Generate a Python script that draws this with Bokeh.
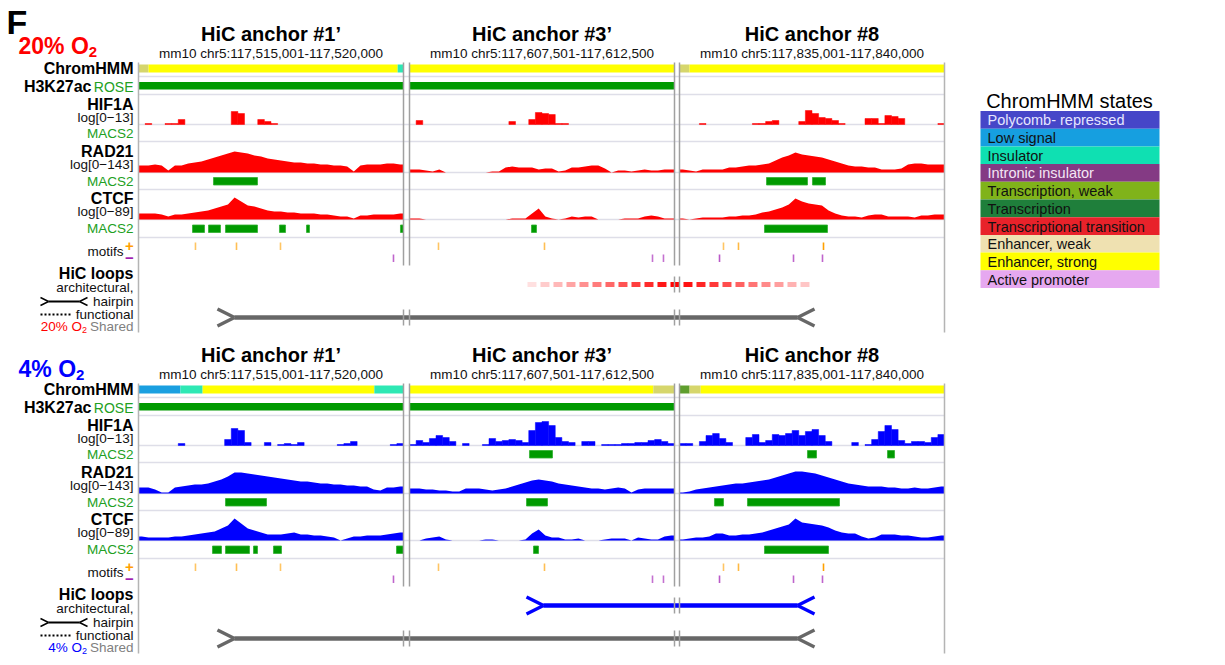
import numpy as np
from bokeh.plotting import figure
from bokeh.models import Range1d
from bokeh.core.properties import value
from bokeh.embed import file_html
from bokeh.resources import INLINE

FONT = "Liberation Sans"

# ------------------------------------------------------------------ data
ANCHOR_TITLES = ["HiC anchor #1\u2019", "HiC anchor #3\u2019", "HiC anchor #8"]
ANCHOR_COORDS = ["mm10 chr5:117,515,001-117,520,000",
                 "mm10 chr5:117,607,501-117,612,500",
                 "mm10 chr5:117,835,001-117,840,000"]
WINDOW_BP = 5000
CONDITIONS = ["20% O", "4% O"]            # subscript "2" added when drawn
COND_COLORS = ["#ff0000", "#0000ff"]
SIG_FULL = 30                               # full-scale of the log signal tracks

LEGEND_STATES = ["Polycomb- repressed", "Low signal", "Insulator", "Intronic insulator",
                 "Transcription, weak", "Transcription", "Transcriptional transition",
                 "Enhancer, weak", "Enhancer, strong", "Active promoter"]
LEGEND_COLORS = ["#4646c8", "#169fe0", "#0fe0b2", "#843a84", "#80b31a", "#1f7f3b",
                 "#e8222a", "#efe1b1", "#ffff00", "#e6a8f0"]
LEGEND_TEXT = ["#e6e6ff", "#111111", "#111111", "#f4e6f4", "#111111", "#111111",
               "#111111", "#111111", "#111111", "#111111"]
TRACK_STATE_COLOR = {"Enhancer, strong": "#ffff00", "Enhancer, weak": "#d6d66c",
                     "Insulator": "#2ee8b4", "Low signal": "#1a9fe0",
                     "Transcription, weak": "#5f9e2e"}

# ChromHMM segments per condition, per anchor: (start_bp, end_bp, state)
CHROMHMM_20 = [[(0, 190, "Enhancer, weak"), (190, 4890, "Enhancer, strong"), (4890, 5000, "Insulator")],
               [(0, 5000, "Enhancer, strong")],
               [(0, 190, "Enhancer, weak"), (190, 5000, "Enhancer, strong")]]
CHROMHMM_4 = [[(0, 790, "Low signal"), (790, 1210, "Insulator"), (1210, 4450, "Enhancer, strong"), (4450, 5000, "Insulator")],
              [(0, 4600, "Enhancer, strong"), (4600, 5000, "Enhancer, weak")],
              [(0, 190, "Transcription, weak"), (190, 400, "Enhancer, weak"), (400, 5000, "Enhancer, strong")]]

# H3K27ac ROSE super-enhancer intervals
ROSE_20 = [[(0, 5000)], [(0, 5000)], []]
ROSE_4 = [[(0, 5000)], [(0, 5000)], []]

# signal tracks: 40 bins per 5 kb anchor window (log scale, 0..30)
HIF1A_20 = [[0,1,0,0,1,1,5,0,0,0, 0,0,0,0,13,11,0,0,5,3, 1,0,0,0,0,0,0,0,0,0, 0,0,0,0,0,0,0,0,0,0],
            [0,4,0,0,0,0,0,0,0,0, 0,0,0,0,0,3,0,0,5,12, 11,10,1,1,0,0,0,0,0,0, 0,0,0,0,0,0,0,0,0,0],
            [0,0,0,1,0,0,0,0,0,0, 0,1,1,3,4,0,0,0,3,14, 11,7,6,4,1,0,0,0,6,6, 1,9,8,6,0,0,0,0,0,1]]
RAD21_20 = [[7,7,8,7,2,7,7,9,10,11, 13,15,17,19,21,20,19,17,16,14, 13,12,11,10,10,9,9,8,8,7, 7,6,1,7,8,8,8,9,9,8],
            [3,3,2,1,3,0,0,0,0,0, 0,0,1,1,5,6,5,5,5,3, 4,4,1,2,5,5,6,7,7,4, 0,2,2,1,2,3,2,2,3,3],
            [3,2,1,3,3,3,3,5,5,6, 7,7,8,9,12,15,17,20,18,17, 16,15,13,11,9,7,6,6,5,5, 3,3,3,4,8,9,9,8,8,8]]
CTCF_20 = [[6,6,6,5,3,5,5,6,7,8, 9,11,13,15,22,18,14,13,11,9, 8,8,7,7,6,6,6,5,5,4, 3,3,1,4,4,5,5,5,5,6],
           [1,1,0,0,0,0,0,0,0,0, 0,0,0,0,0,1,1,1,6,11, 3,1,0,1,3,2,3,3,0,0, 0,0,1,1,1,3,4,3,1,1],
           [1,0,1,2,2,2,2,3,3,4, 4,5,7,8,10,12,15,21,18,16, 15,14,9,6,4,3,3,2,4,5, 5,3,3,3,3,2,4,4,5,5]]
HIF1A_4 = [[0,0,0,0,0,0,2,0,0,0, 0,0,0,6,17,15,3,0,0,3, 0,1,2,1,3,0,0,0,0,0, 1,2,4,0,0,0,0,0,1,2],
           [1,5,3,7,10,8,4,0,2,0, 0,1,7,4,5,6,5,3,15,23, 24,20,8,4,3,0,4,4,0,1, 1,1,2,2,3,3,5,6,4,2],
           [2,2,0,4,10,12,7,3,0,0, 8,11,3,5,11,10,12,15,10,14, 16,10,4,0,0,0,3,0,1,6, 14,20,16,5,2,4,4,3,8,11]]
RAD21_4 = [[6,6,4,1,1,6,7,8,9,9, 10,12,14,17,21,21,20,19,18,17, 16,15,14,13,12,12,11,10,10,9, 9,8,8,7,7,4,3,6,6,7],
           [5,5,4,4,3,3,2,2,5,5, 5,4,3,4,5,7,9,11,13,14, 13,12,10,9,8,7,6,5,5,4, 5,6,5,1,4,5,5,5,5,5],
           [1,2,4,5,6,7,8,9,10,10, 11,12,13,14,16,18,20,22,22,21, 20,18,16,14,12,10,9,8,7,7, 7,6,6,5,5,6,5,5,6,7]]
CTCF_4 = [[4,3,3,3,3,4,4,5,6,7, 8,9,12,15,22,17,12,10,8,6, 6,6,7,8,6,6,5,5,4,3, 0,2,4,4,5,5,5,6,7,8],
          [0,0,2,3,4,1,0,0,0,0, 0,1,1,0,0,0,0,1,7,11, 5,3,3,1,1,2,0,0,0,1, 2,2,2,0,3,2,1,1,4,5],
          [1,2,3,3,4,7,7,5,5,6, 6,7,8,10,12,14,16,22,18,17, 16,15,13,10,8,7,7,4,2,3, 6,6,6,5,5,4,3,3,4,5]]

# MACS2 peaks (bp within anchor window)
MACS_HIF1A_20 = [[], [], []]
MACS_RAD21_20 = [[(1415, 2245)], [], [(1642, 2415), (2509, 2755)]]
MACS_CTCF_20 = [[(1019, 1245), (1321, 1547), (1642, 2245), (2660, 2774), (3170, 3226), (4943, 5000)],
                [(2302, 2396)], [(1604, 2792)]]
MACS_HIF1A_4 = [[], [(2264, 2698)], [(2415, 2585), (3925, 4057)]]
MACS_RAD21_4 = [[(1642, 2415)], [(2208, 2604)], [(660, 830), (1283, 3019)]]
MACS_CTCF_4 = [[(1396, 1566), (1642, 2094), (2170, 2245), (2547, 2698), (4868, 5000)],
               [(2340, 2434)], [(1604, 2811)]]

# CTCF motifs (bp) and motif scores
MOTIF_PLUS = [[1075, 1849, 2679], [547, 2547], [830, 1113, 2717]]
MOTIF_PLUS_SCORE = [[0.4, 0.5, 0.4], [0.4, 0.5], [0.4, 0.6, 1.0]]
MOTIF_MINUS = [[4811], [4585, 4792], [755, 2151, 2698]]
MOTIF_MINUS_SCORE = [[0.7], [0.6, 0.6], [0.8, 0.7, 0.7]]

# HiC loops: (anchor index, bp) of both ends
LOOP_SHARED = ((0, 1490), (2, 2547))
LOOP_FUNCTIONAL_20 = ((1, 2226), (2, 2528))   # dashed, functional
LOOP_HAIRPIN_4 = ((1, 2208), (2, 2547))       # architectural hairpin

# ------------------------------------------------------------------ layout
PANEL_X0 = [138, 409, 679]
PANEL_W = 265
BLOCK_OFF = [0, 321]
LABEL_X = 133


def gx(panel, bp):
    return PANEL_X0[panel] + bp / WINDOW_BP * PANEL_W


p = figure(width=1225, height=665, x_range=Range1d(0, 1225), y_range=Range1d(665, 0),
           output_backend="svg", toolbar_location=None, min_border=0,
           x_axis_location=None, y_axis_location=None)
p.grid.visible = False
p.outline_line_color = None
p.background_fill_color = "white"

ARIAL = {'2': 556, '0': 556, '%': 889, ' ': 278, 'O': 778, '4': 556}


def twidth(s, size):
    return sum(ARIAL[c] for c in s) * size / 1000.0


def T(x, y, s, size=13.5, color="#000000", bold=False, align="left"):
    p.text(x=[x], y=[y], text=[s], text_font=value(FONT), text_font_size=f"{size}px",
           text_color=color, text_font_style="bold" if bold else "normal",
           text_align=align, text_baseline="middle")


def hairpin(xl, xr, y, color, lw, arm=17, half=8.5):
    p.segment(x0=[xl, xl, xr, xr], y0=[y - half, y + half, y - half, y + half],
              x1=[xl + arm, xl + arm, xr - arm, xr - arm], y1=[y, y, y, y],
              line_color=color, line_width=lw * 0.75)
    p.segment(x0=[xl + arm], y0=[y], x1=[xr - arm], y1=[y], line_color=color, line_width=lw)


def blocky(sig, base, color):
    L, R, TOP = [], [], []
    for k, vals in enumerate(sig):
        bw = PANEL_W / len(vals)
        for i, v in enumerate(vals):
            if v > 0:
                L.append(PANEL_X0[k] + i * bw); R.append(PANEL_X0[k] + (i + 1) * bw)
                TOP.append(base - v / SIG_FULL * 30)
    p.quad(left=L, right=R, top=TOP, bottom=base, fill_color=color,
           line_color=color, line_width=0.5)


def smooth(sig, base, color):
    for k, vals in enumerate(sig):
        n = len(vals)
        bw = PANEL_W / n
        xs = [PANEL_X0[k]] + [PANEL_X0[k] + (i + 0.5) * bw for i in range(n)] + [PANEL_X0[k] + PANEL_W]
        hv = [vals[0]] + list(vals) + [vals[-1]]
        ys = [base - v / SIG_FULL * 30 for v in hv]
        p.varea(x=xs, y1=[base] * len(xs), y2=ys, fill_color=color)


T(6, 21, "F", 34, bold=True)

SIGNALS = [(HIF1A_20, RAD21_20, CTCF_20), (HIF1A_4, RAD21_4, CTCF_4)]
MACS = [(MACS_HIF1A_20, MACS_RAD21_20, MACS_CTCF_20), (MACS_HIF1A_4, MACS_RAD21_4, MACS_CTCF_4)]
CHROM = [CHROMHMM_20, CHROMHMM_4]
ROSE = [ROSE_20, ROSE_4]
COND_Y = [45, 368]

for b, off in enumerate(BLOCK_OFF):
    ccol = COND_COLORS[b]
    # condition label
    T(18, COND_Y[b], CONDITIONS[b], 23, ccol, bold=True)
    T(18 + twidth(CONDITIONS[b], 23), COND_Y[b] + 6, "2", 15, ccol, bold=True)

    # panel titles
    for k in range(3):
        cx = PANEL_X0[k] + PANEL_W / 2
        T(cx, 33.5 + off, ANCHOR_TITLES[k], 20, bold=True, align="center")
        T(cx, 52.5 + off, ANCHOR_COORDS[k], 13.5, "#111111", align="center")

    # light horizontal track separators
    hl = [76, 94, 124, 141, 172, 189, 219, 237]
    p.segment(x0=[PANEL_X0[0]] * len(hl), x1=[PANEL_X0[2] + PANEL_W] * len(hl),
              y0=[h + off for h in hl], y1=[h + off for h in hl],
              line_color="#dedee8", line_width=1.5)

    # ChromHMM
    L, R, C = [], [], []
    for k, segs in enumerate(CHROM[b]):
        for s0, s1, st in segs:
            L.append(gx(k, s0)); R.append(gx(k, s1)); C.append(TRACK_STATE_COLOR[st])
    p.quad(left=L, right=R, top=64 + off, bottom=72 + off, fill_color=C, line_color=None)

    # H3K27ac ROSE
    L, R = [], []
    for k, segs in enumerate(ROSE[b]):
        for s0, s1 in segs:
            L.append(gx(k, s0)); R.append(gx(k, s1))
    p.quad(left=L, right=R, top=81.5 + off, bottom=89 + off, fill_color="#009a00", line_color=None)

    # signals
    hif, rad, ctcf = SIGNALS[b]
    blocky(hif, 124 + off, ccol)
    smooth(rad, 172 + off, ccol)
    smooth(ctcf, 219 + off, ccol)

    # MACS2 peaks
    for peaks, (t0, t1) in zip(MACS[b], [(129, 136.5), (177, 184.5), (224.5, 232)]):
        L, R = [], []
        for k, segs in enumerate(peaks):
            for s0, s1 in segs:
                L.append(gx(k, s0)); R.append(gx(k, s1))
        if L:
            p.quad(left=L, right=R, top=t0 + off, bottom=t1 + off, fill_color="#009a00",
                   line_color="#30b030", line_width=0.8)

    # motifs
    xs = [gx(k, m) for k, ms in enumerate(MOTIF_PLUS) for m in ms]
    al = [0.35 + 0.65 * s for ss in MOTIF_PLUS_SCORE for s in ss]
    p.segment(x0=xs, x1=xs, y0=242 + off, y1=249.5 + off, line_color="#ffa000",
              line_alpha=al, line_width=1.6)
    xs = [gx(k, m) for k, ms in enumerate(MOTIF_MINUS) for m in ms]
    al = [0.35 + 0.65 * s for ss in MOTIF_MINUS_SCORE for s in ss]
    p.segment(x0=xs, x1=xs, y0=254 + off, y1=261.5 + off, line_color="#b040c0",
              line_alpha=al, line_width=1.6)

    # vertical panel borders
    inner = [PANEL_X0[0] + PANEL_W, PANEL_X0[1], PANEL_X0[1] + PANEL_W, PANEL_X0[2]]
    p.segment(x0=inner, x1=inner, y0=62 + off, y1=265 + off, line_color="#a0a0a0", line_width=1.5)
    outer = [PANEL_X0[0], PANEL_X0[2] + PANEL_W]
    p.segment(x0=outer, x1=outer, y0=62 + off, y1=332 + off, line_color="#b4b4b4", line_width=1.5)

    # loops
    (ka, ba), (kb, bb) = LOOP_SHARED
    ys = 317 + off
    hairpin(gx(ka, ba), gx(kb, bb), ys, "#676767", 4.5)
    p.segment(x0=inner, x1=inner, y0=ys - 8, y1=ys + 8, line_color="#a0a0a0", line_width=1.5)
    yl = 284 + off
    if b == 0:
        (ka, ba), (kb, bb) = LOOP_FUNCTIONAL_20
        x_l, x_r = gx(ka, ba), gx(kb, bb)
        mid = (PANEL_X0[1] + PANEL_W + PANEL_X0[2]) / 2
        starts = np.arange(x_l, x_r - 4, 13.0)
        ends = np.minimum(starts + 9, x_r)
        cen = (starts + ends) / 2
        alph = np.clip(1.0 - np.abs(cen - mid) / 165.0, 0.06, 1.0)
        p.segment(x0=list(starts), x1=list(ends), y0=yl, y1=yl, line_color="#ff0000",
                  line_alpha=list(alph), line_width=5)
    else:
        (ka, ba), (kb, bb) = LOOP_HAIRPIN_4
        hairpin(gx(ka, ba), gx(kb, bb), yl, "#0000ff", 4.5)
    p.segment(x0=inner[2:], x1=inner[2:], y0=yl - 8, y1=yl + 8, line_color="#a0a0a0", line_width=1.5)

    # left labels
    T(LABEL_X, 68 + off, "ChromHMM", 16, bold=True, align="right")
    T(LABEL_X, 86 + off, "ROSE", 14, "#22a022", align="right")
    T(LABEL_X - 42, 86 + off, "H3K27ac", 16, bold=True, align="right")
    for name, rng, yy in [("HIF1A", "log[0\u221213]", 104), ("RAD21", "log[0\u2212143]", 151),
                          ("CTCF", "log[0\u221289]", 198)]:
        T(LABEL_X, yy + off, name, 16, bold=True, align="right")
        T(LABEL_X, yy + 13 + off, rng, 13.5, "#111111", align="right")
    for yy in [133, 181, 228]:
        T(LABEL_X, yy + off, "MACS2", 13.5, "#22a022", align="right")
    T(123, 251 + off, "motifs", 13.5, "#111111", align="right")
    T(129, 245 + off, "+", 15, "#ffa000", bold=True, align="center")
    T(129, 257 + off, "\u2212", 15, "#a020b0", bold=True, align="center")
    T(LABEL_X, 273 + off, "HiC loops", 16, bold=True, align="right")
    T(LABEL_X, 287 + off, "architectural,", 13.5, "#111111", align="right")
    T(LABEL_X, 301 + off, "hairpin", 13.5, "#111111", align="right")
    hairpin(40, 87, 301 + off, "#000000", 2.0, arm=8, half=4)
    T(LABEL_X, 314 + off, "functional", 13.5, "#111111", align="right")
    p.line(x=[40, 70], y=[314 + off, 314 + off], line_color="#000000", line_width=2, line_dash="2 2")
    T(LABEL_X, 326 + off, "Shared", 13.5, "#808080", align="right")
    cs = CONDITIONS[b]
    x_end = LABEL_X - 43.5 - 3
    T(x_end - 5 - twidth(cs, 13.5), 326 + off, cs, 13.5, ccol)
    T(x_end - 5, 329 + off, "2", 9, ccol)

# ChromHMM legend
T(1069, 100, "ChromHMM states", 20, "#000000", align="center")
RH = 17.7
tops = [110.5 + i * RH for i in range(len(LEGEND_STATES))]
p.quad(left=980, right=1159, top=tops, bottom=[t + RH for t in tops],
       fill_color=LEGEND_COLORS, line_color=None)
for i, st in enumerate(LEGEND_STATES):
    T(987, tops[i] + RH / 2 + 0.5, st, 14.5, LEGEND_TEXT[i])

open("out.html", "w").write(file_html(p, INLINE))
